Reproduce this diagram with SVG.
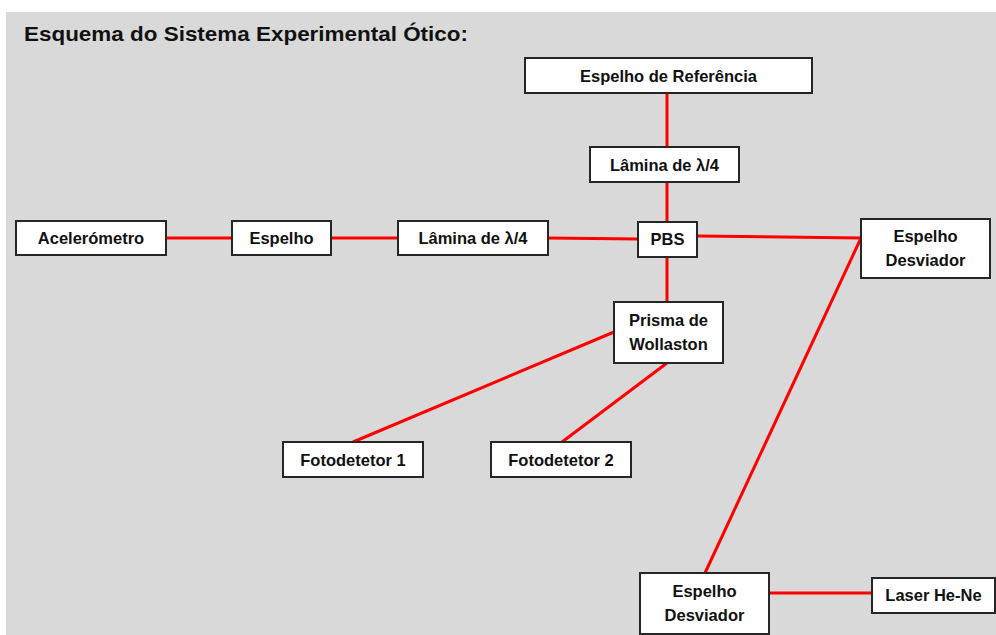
<svg xmlns="http://www.w3.org/2000/svg" width="996" height="635" viewBox="0 0 996 635">
<style>
.box{fill:#fff;stroke:#262626;stroke-width:2}
.t{font-family:"Liberation Sans",Arial,sans-serif;font-weight:bold;font-size:16.5px;fill:#111;text-anchor:middle}
.title{font-family:"Liberation Sans",Arial,sans-serif;font-weight:bold;font-size:21px;fill:#111}
.c{stroke:#ff0000;stroke-width:3;fill:none}
</style>
<rect x="0" y="0" width="996" height="635" fill="#fff"/>
<rect x="6" y="12" width="990" height="623" fill="#d9d9d9"/>
<text class="title" x="24" y="41" textLength="444" lengthAdjust="spacingAndGlyphs">Esquema do Sistema Experimental Ótico:</text>
<g id="connectors">
<line class="c" x1="667" y1="93" x2="667" y2="147"/>
<line class="c" x1="667" y1="182" x2="667" y2="222"/>
<line class="c" x1="166" y1="238" x2="232" y2="238"/>
<line class="c" x1="331" y1="238" x2="398" y2="238"/>
<line class="c" x1="548" y1="238" x2="638" y2="239"/>
<line class="c" x1="697" y1="236" x2="861" y2="238"/>
<line class="c" x1="861" y1="238" x2="705" y2="573"/>
<line class="c" x1="667" y1="257" x2="667" y2="302"/>
<line class="c" x1="614" y1="332" x2="353" y2="442"/>
<line class="c" x1="667" y1="363" x2="562" y2="442"/>
<line class="c" x1="769" y1="593" x2="872" y2="593"/>
</g>
<g id="espelho-referencia"><rect class="box" x="525" y="58" width="287" height="35"/><text class="t" x="668.5" y="81.5">Espelho de Referência</text></g>
<g id="lamina-top"><rect class="box" x="590" y="147" width="149" height="35"/><text class="t" x="664.5" y="170.5">Lâmina de λ/4</text></g>
<g id="acelerometro"><rect class="box" x="16" y="221" width="150" height="34"/><text class="t" x="91" y="244">Acelerómetro</text></g>
<g id="espelho"><rect class="box" x="232" y="221" width="99" height="34"/><text class="t" x="281.5" y="244">Espelho</text></g>
<g id="lamina-left"><rect class="box" x="398" y="221" width="150" height="34"/><text class="t" x="473" y="244">Lâmina de λ/4</text></g>
<g id="pbs"><rect class="box" x="638" y="222" width="59" height="35"/><text class="t" x="667.5" y="245">PBS</text></g>
<g id="espelho-desviador-1"><rect class="box" x="861" y="219" width="129" height="59"/><text class="t" x="925.5" y="242">Espelho</text><text class="t" x="925.5" y="266">Desviador</text></g>
<g id="prisma"><rect class="box" x="614" y="302" width="109" height="61"/><text class="t" x="668.5" y="326">Prisma de</text><text class="t" x="668.5" y="350">Wollaston</text></g>
<g id="fotodetetor-1"><rect class="box" x="283" y="442" width="140" height="35"/><text class="t" x="353" y="465.5">Fotodetetor 1</text></g>
<g id="fotodetetor-2"><rect class="box" x="491" y="442" width="140" height="35"/><text class="t" x="561" y="465.5">Fotodetetor 2</text></g>
<g id="espelho-desviador-2"><rect class="box" x="640" y="573" width="129" height="61"/><text class="t" x="704.5" y="597">Espelho</text><text class="t" x="704.5" y="621">Desviador</text></g>
<g id="laser"><rect class="box" x="872" y="578" width="123" height="35"/><text class="t" x="933.5" y="601">Laser He-Ne</text></g>
</svg>
